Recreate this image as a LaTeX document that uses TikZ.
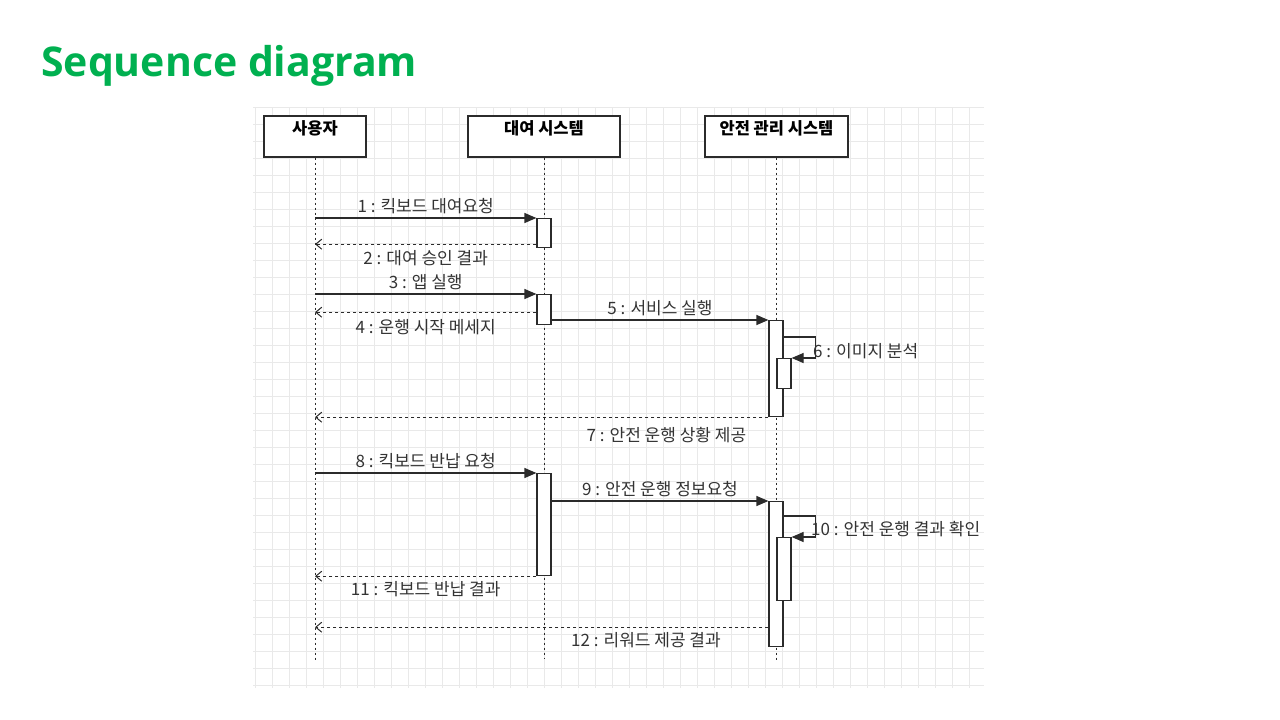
\documentclass[tikz,border=0pt]{standalone}
\usepackage{fontspec}
\usepackage{tikz}
\usetikzlibrary{arrows.meta}
\setmainfont{Noto Sans CJK KR}
\newfontfamily\titlefont{Open Sans}
\definecolor{titlegreen}{HTML}{00B050}
\definecolor{gridgray}{HTML}{E9E9E9}
\definecolor{linegray}{HTML}{2B2B2B}

\begin{document}
\begin{tikzpicture}[x=1pt,y=-1pt,
  head/.style={draw=linegray, line width=1.2pt, fill=white, minimum height=41pt, inner sep=0pt},
  headtext/.style={font=\fontsize{16.5}{18}\selectfont\bfseries, inner sep=0pt, anchor=north},
  life/.style={draw=linegray, dash pattern=on 2.5pt off 2.5pt, line width=0.9pt},
  act/.style={draw=linegray, line width=1.2pt, fill=white, minimum width=14pt, inner sep=0pt, anchor=north},
  msg/.style={draw=linegray, line width=1.2pt, -{Triangle[length=12pt,width=10pt]}},
  ret/.style={draw=linegray, line width=1pt, dash pattern=on 3pt off 3pt, -{Straight Barb[length=6pt,width=10pt]}},
  txt/.style={font=\fontsize{17}{19}\selectfont, text=black!80, inner sep=0pt}]
\useasboundingbox (0,0) rectangle (1280,720);
\draw[gridgray, step=17pt, yshift=-5pt] (253,102) grid (984,683);

\node[anchor=base west, inner sep=0pt, text=titlegreen, font=\titlefont\fontsize{41}{46}\selectfont\bfseries] (title) at (41,76) {Sequence diagram};

\node[head, minimum width=102pt] (user) at (315,136.5) {};
\node[head, minimum width=152pt] (rent) at (544,136.5) {};
\node[head, minimum width=143pt] (safe) at (776.5,136.5) {};
\node[headtext] (usertext) at ([yshift=-5pt]user.north) {사용자};
\node[headtext] (renttext) at ([yshift=-5pt]rent.north) {대여 시스템};
\node[headtext] (safetext) at ([yshift=-5pt]safe.north) {안전 관리 시스템};

\coordinate (userend) at (315,662);
\coordinate (rentend) at (544,658);
\coordinate (safeend) at (776.5,662);
\draw[life] (user.south) -- (userend);
\draw[life] (rent.south) -- (rentend);
\draw[life] (safe.south) -- (safeend);

\node[act, minimum height=29pt] (a1) at (544,218) {};
\node[act, minimum height=30pt] (a2) at (544,294) {};
\node[act, minimum height=96pt] (a3) at (776,320) {};
\node[act, minimum height=30pt] (a4) at (784,358) {};
\node[act, minimum height=102pt] (a5) at (544,473) {};
\node[act, minimum height=145pt] (a6) at (776,501) {};
\node[act, minimum height=63pt] (a7) at (784,537) {};

\draw[msg] (user |- a1.north west) -- (a1.north west) node[txt, midway, above=4pt] {1 : 킥보드 대여요청};
\path ([yshift=4pt]a1.south west) coordinate (r2);
\draw[ret] (r2) -- (r2 -| user) node[txt, midway, below=6pt] {2 : 대여 승인 결과};
\draw[msg] (user |- a2.north west) -- (a2.north west) node[txt, midway, above=4pt] {3 : 앱 실행};
\path ([yshift=13pt]a2.south west) coordinate (r4);
\draw[ret] (r4) -- (r4 -| user) node[txt, midway, below=7pt] {4 : 운행 시작 메세지};
\draw[msg] (a3.north west -| a2.east) -- (a3.north west) node[txt, midway, above=4pt] {5 : 서비스 실행};
\draw[msg] ([yshift=-17pt]a3.north east) -- ++(32,0) node[txt, anchor=west, xshift=-3pt, yshift=-14pt] {6 : 이미지 분석} |- (a4.north east);
\draw[ret] (a3.south west) -- (a3.south west -| user) node[txt, pos=0.225, below=10pt] {7 : 안전 운행 상황 제공};
\draw[msg] (user |- a5.north west) -- (a5.north west) node[txt, midway, above=4pt] {8 : 킥보드 반납 요청};
\draw[msg] (a6.north west -| a5.east) -- (a6.north west) node[txt, midway, above=4pt] {9 : 안전 운행 정보요청};
\draw[msg] ([yshift=-15pt]a6.north east) -- ++(32,0) node[txt, anchor=west, xshift=-5pt, yshift=-13pt] {10 : 안전 운행 결과 확인} |- (a7.north east);
\draw[ret] (a5.south west) -- (a5.south west -| user) node[txt, midway, below=5pt] {11 : 킥보드 반납 결과};
\path ([yshift=20pt]a6.south west) coordinate (r12);
\draw[ret] (r12) -- (r12 -| user) node[txt, pos=0.27, below=5pt] {12 : 리워드 제공 결과};
\end{tikzpicture}
\end{document}
